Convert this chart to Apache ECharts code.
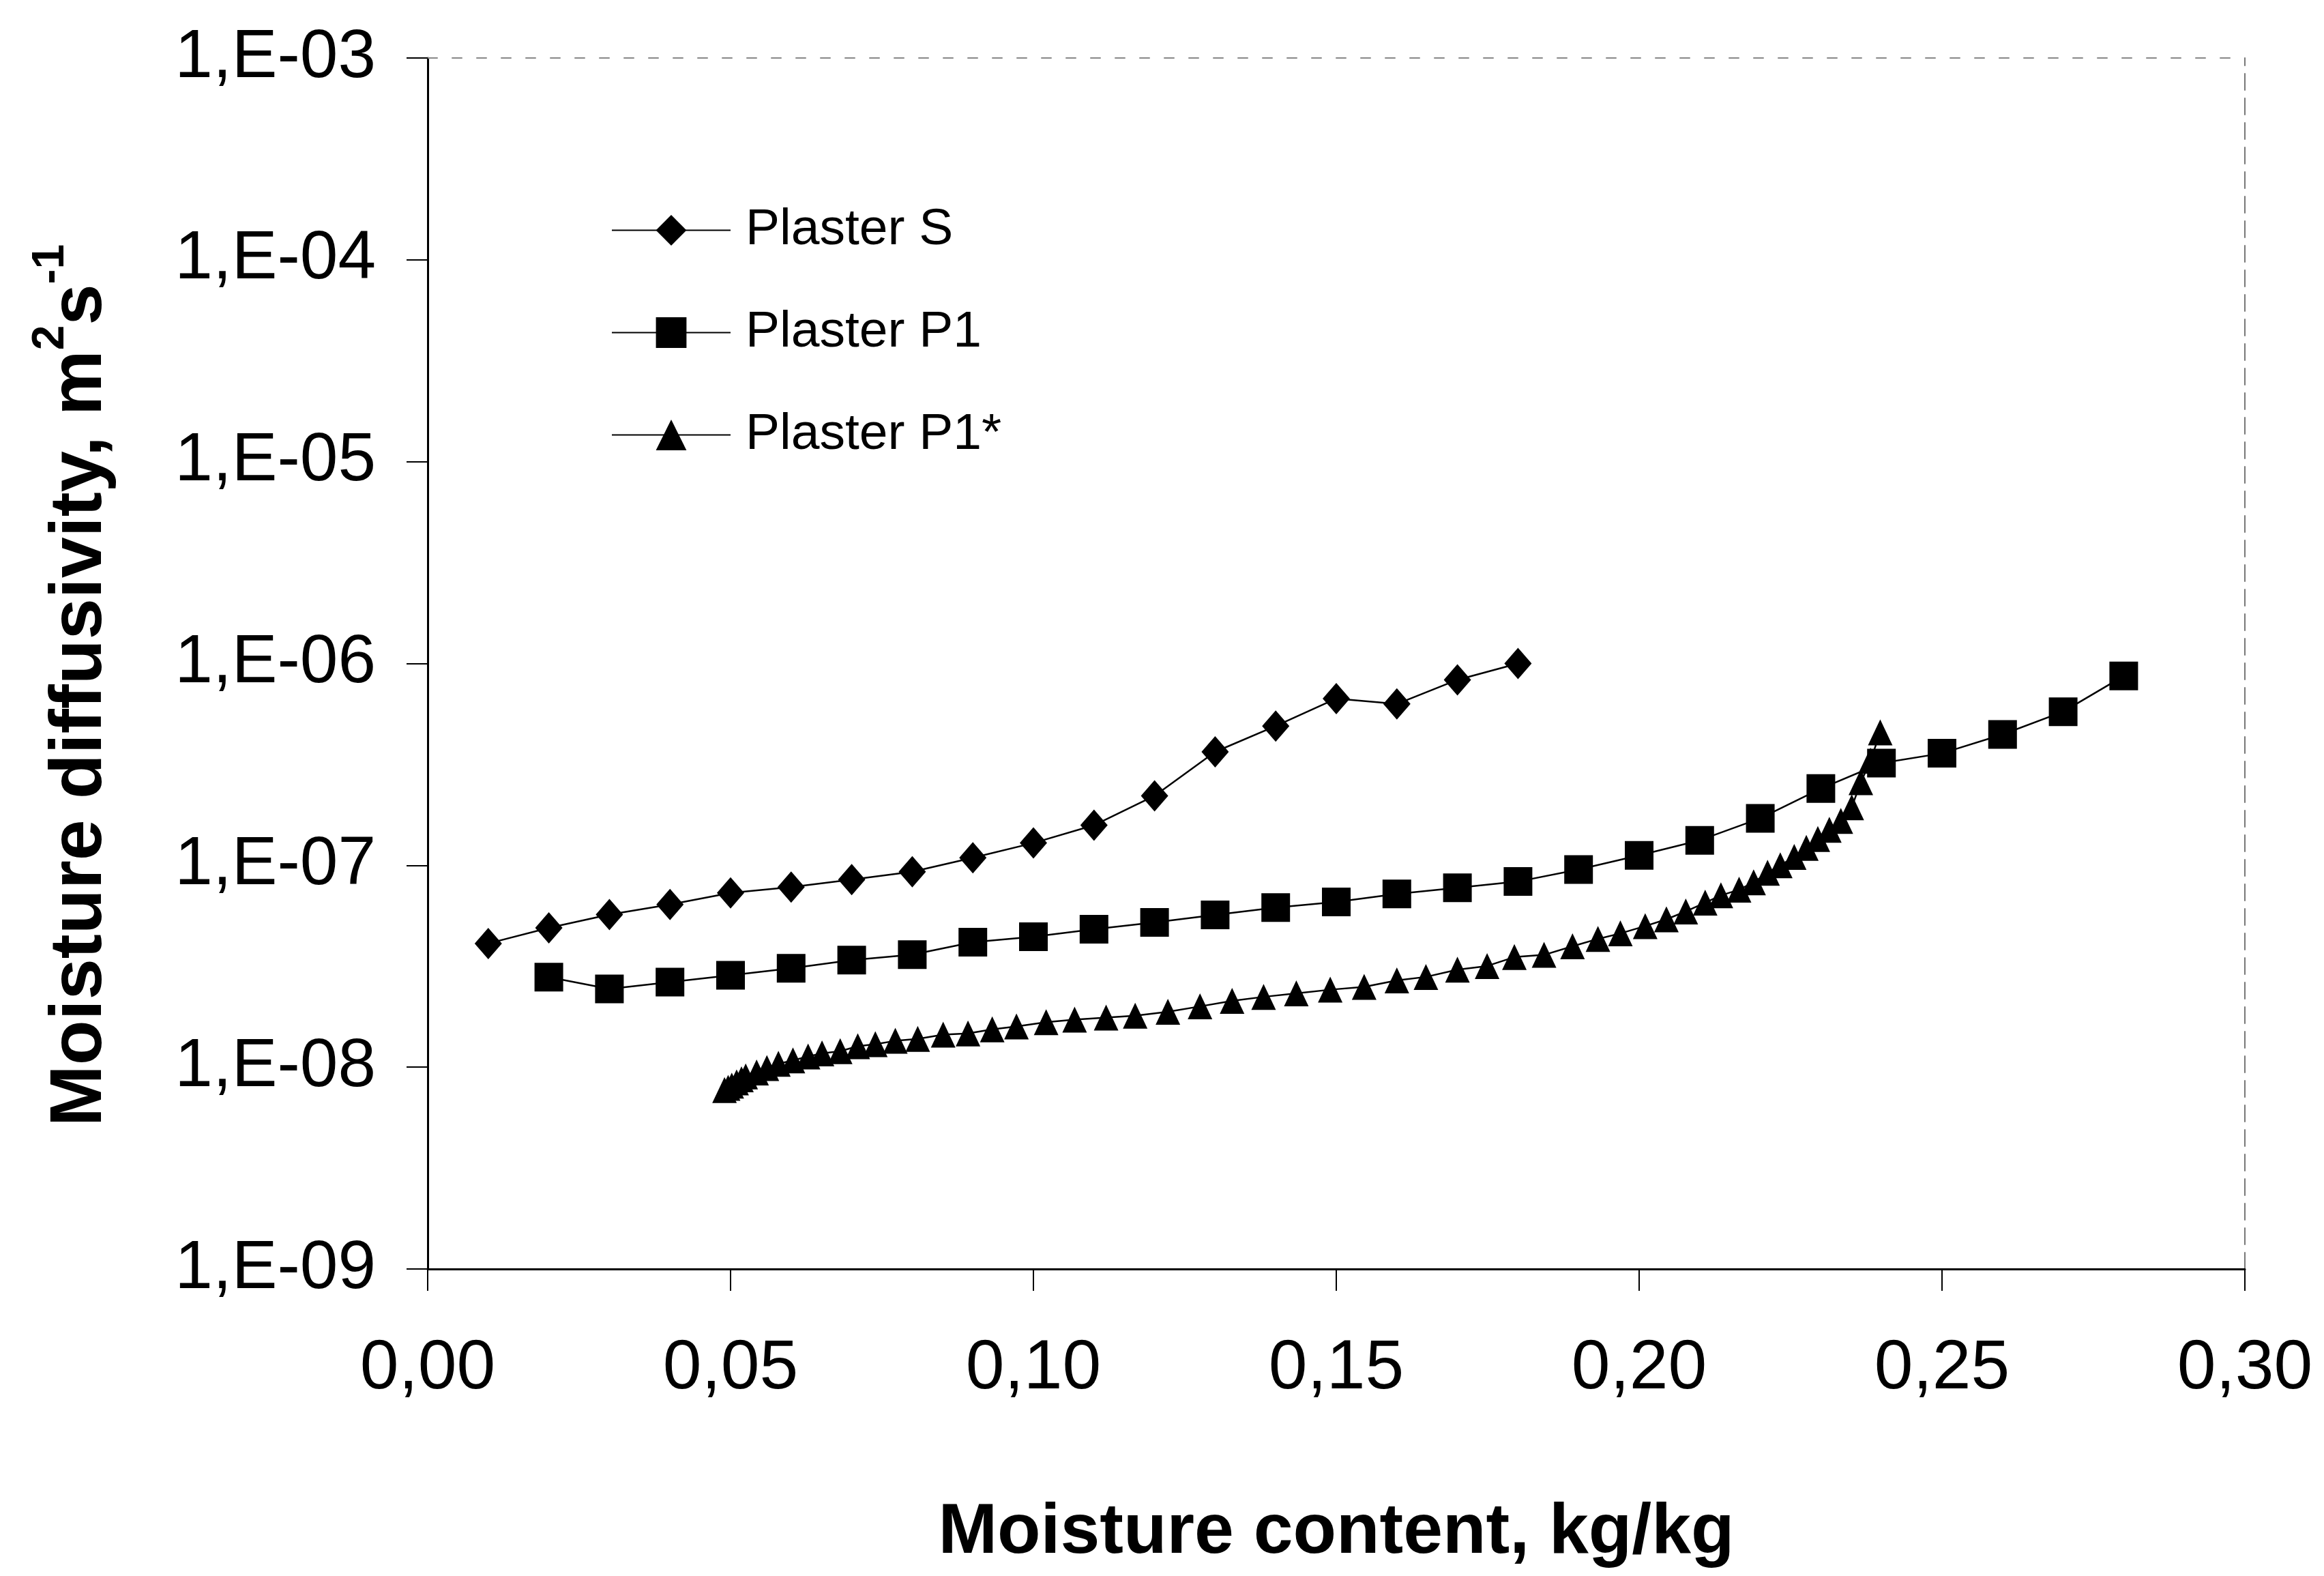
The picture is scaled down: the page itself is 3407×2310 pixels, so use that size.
<!DOCTYPE html>
<html>
<head>
<meta charset="utf-8">
<script src="https://cdn.jsdelivr.net/npm/echarts@6/dist/echarts.min.js"></script>
<style>
  html, body { margin: 0; padding: 0; background: #fff; }
  #chart { width: 3407px; height: 2310px; }
</style>
</head>
<body>
<div id="chart"></div>
<script>
// moisture content (kg/kg) and diffusivity (m2/s)
const plasterS_x = [0.01, 0.02, 0.03, 0.04, 0.05, 0.06, 0.07, 0.08, 0.09, 0.10, 0.11, 0.12, 0.13, 0.14, 0.15, 0.16, 0.17, 0.18];
const plasterS_y = [4.1e-8, 4.9e-8, 5.7e-8, 6.4e-8, 7.3e-8, 7.8e-8, 8.5e-8, 9.3e-8, 1.09e-7, 1.29e-7, 1.58e-7, 2.21e-7, 3.65e-7, 4.9e-7, 6.7e-7, 6.3e-7, 8.3e-7, 1.0e-6];

const plasterP1_x = [0.02, 0.03, 0.04, 0.05, 0.06, 0.07, 0.08, 0.09, 0.10, 0.11, 0.12, 0.13, 0.14, 0.15, 0.16, 0.17, 0.18, 0.19, 0.20, 0.21, 0.22, 0.23, 0.24, 0.25, 0.26, 0.27, 0.28];
const plasterP1_y = [2.79e-8, 2.44e-8, 2.64e-8, 2.85e-8, 3.09e-8, 3.39e-8, 3.61e-8, 4.16e-8, 4.43e-8, 4.82e-8, 5.21e-8, 5.68e-8, 6.18e-8, 6.58e-8, 7.22e-8, 7.74e-8, 8.31e-8, 9.53e-8, 1.12e-7, 1.33e-7, 1.71e-7, 2.40e-7, 3.21e-7, 3.59e-7, 4.45e-7, 5.77e-7, 8.67e-7];

const plasterP1s_x = [0.0490, 0.0496, 0.0502, 0.0510, 0.0518, 0.0525, 0.0543, 0.0560, 0.0579, 0.0603,
  0.0628, 0.0651, 0.0681, 0.0710, 0.0739, 0.0772, 0.0809, 0.0851, 0.0892, 0.0932,
  0.0972, 0.1021, 0.1068, 0.1120, 0.1168, 0.1222, 0.1275, 0.1328, 0.1380, 0.1434,
  0.1490, 0.1546, 0.1600, 0.1648, 0.1700, 0.1749, 0.1794, 0.1843, 0.1890, 0.1932,
  0.1969, 0.2010, 0.2045, 0.2077, 0.2109, 0.2135, 0.2165, 0.2189, 0.2212, 0.2233,
  0.2256, 0.2276, 0.2295, 0.2314, 0.2333, 0.2351, 0.2366, 0.2382, 0.2398];
const plasterP1s_y = [7.7e-9, 7.9e-9, 8.1e-9, 8.4e-9, 8.7e-9, 9.0e-9, 9.4e-9, 9.9e-9, 1.04e-8, 1.08e-8,
  1.13e-8, 1.17e-8, 1.20e-8, 1.27e-8, 1.30e-8, 1.35e-8, 1.38e-8, 1.45e-8, 1.47e-8, 1.54e-8,
  1.59e-8, 1.67e-8, 1.72e-8, 1.76e-8, 1.80e-8, 1.88e-8, 2.00e-8, 2.13e-8, 2.23e-8, 2.32e-8,
  2.42e-8, 2.50e-8, 2.69e-8, 2.80e-8, 3.04e-8, 3.17e-8, 3.51e-8, 3.60e-8, 3.97e-8, 4.32e-8,
  4.60e-8, 5.00e-8, 5.40e-8, 5.91e-8, 6.53e-8, 7.10e-8, 7.57e-8, 8.24e-8, 9.18e-8, 1.00e-7,
  1.10e-7, 1.22e-7, 1.35e-7, 1.50e-7, 1.66e-7, 1.94e-7, 2.58e-7, 3.30e-7, 4.56e-7];

const xTicks = [0, 0.05, 0.10, 0.15, 0.20, 0.25, 0.30];
const yMin = 1e-9, yMax = 1e-3;

const pairs = (xs, ys) => xs.map((x, i) => [x, ys[i]]);
const font = "'Liberation Sans', Arial, sans-serif";

const chart = echarts.init(document.getElementById("chart"));

const lineSeries = (name, xs, ys, symbol, size) => ({
  name: name,
  type: "line",
  data: pairs(xs, ys),
  symbol: symbol,
  symbolSize: size,
  showAllSymbol: true,
  lineStyle: { color: "#000", width: 2.5 },
  itemStyle: { color: "#000" },
  z: 3,
});

chart.setOption({
  backgroundColor: "#fff",
  animation: false,
  grid: { left: 627, right: 116, top: 85, bottom: 450 },
  legend: {
    orient: "vertical",
    left: 891,
    top: 295,
    itemWidth: 174,
    itemHeight: 56,
    itemGap: 75,
    textStyle: { fontFamily: font, fontSize: 75, color: "#000", lineHeight: 75, padding: [0, 0, 0, 17] },
    data: ["Plaster S", "Plaster P1", "Plaster P1*"],
  },
  xAxis: [
    {
      type: "value",
      min: xTicks[0],
      max: xTicks[xTicks.length - 1],
      interval: 0.05,
      axisLine: { onZero: false, lineStyle: { color: "#000", width: 3 } },
      axisTick: { length: 32, lineStyle: { color: "#000", width: 2 } },
      splitLine: { show: false },
      axisLabel: {
        margin: 96,
        fontFamily: font,
        fontSize: 102,
        color: "#000",
        formatter: (v) => (Math.round(v * 100) / 100).toFixed(2).replace(".", ","),
      },
      name: "Moisture content, kg/kg",
      nameLocation: "middle",
      nameGap: 335,
      nameTextStyle: { fontFamily: font, fontSize: 104, fontWeight: "bold", color: "#000" },
    },
    {
      type: "value",
      position: "top",
      min: 0,
      max: 0.3,
      axisLine: { onZero: false, lineStyle: { color: "#888", width: 2, type: [14, 22] } },
      axisTick: { show: false },
      axisLabel: { show: false },
      splitLine: { show: false },
    },
  ],
  yAxis: [
    {
      type: "log",
      logBase: 10,
      min: yMin,
      max: yMax,
      splitNumber: 6,
      axisLine: { show: true, onZero: false, lineStyle: { color: "#000", width: 3 } },
      axisTick: { show: true, length: 31, lineStyle: { color: "#000", width: 2 } },
      splitLine: { show: false },
      axisLabel: {
        margin: 76,
        fontFamily: font,
        fontSize: 100,
        color: "#000",
        formatter: (v) => {
          const e = Math.round(-Math.log10(v));
          return "1,E-" + (e < 10 ? "0" + e : e);
        },
      },
      name: "{t|Moisture diffusivity, m}{sup|2}{t|s}{sup|-1}",
      nameLocation: "middle",
      nameGap: 455,
      nameTextStyle: {
        padding: [0, 64, 0, 0],
        rich: {
          t: { fontFamily: font, fontSize: 108, fontWeight: "bold", color: "#000", lineHeight: 130, verticalAlign: "bottom" },
          sup: { fontFamily: font, fontSize: 66, fontWeight: "bold", color: "#000", lineHeight: 66, verticalAlign: "top" },
        },
      },
    },
    {
      type: "value",
      position: "right",
      min: 0,
      max: 1,
      axisLine: { show: true, onZero: false, lineStyle: { color: "#777", width: 2, type: [24, 12] } },
      axisTick: { show: false },
      axisLabel: { show: false },
      splitLine: { show: false },
    },
  ],
  series: [
    lineSeries("Plaster S", plasterS_x, plasterS_y, "diamond", [40, 46]),
    lineSeries("Plaster P1", plasterP1_x, plasterP1_y, "rect", 42),
    lineSeries("Plaster P1*", plasterP1s_x, plasterP1s_y, "triangle", [36, 38]),
  ],
});
</script>
</body>
</html>
